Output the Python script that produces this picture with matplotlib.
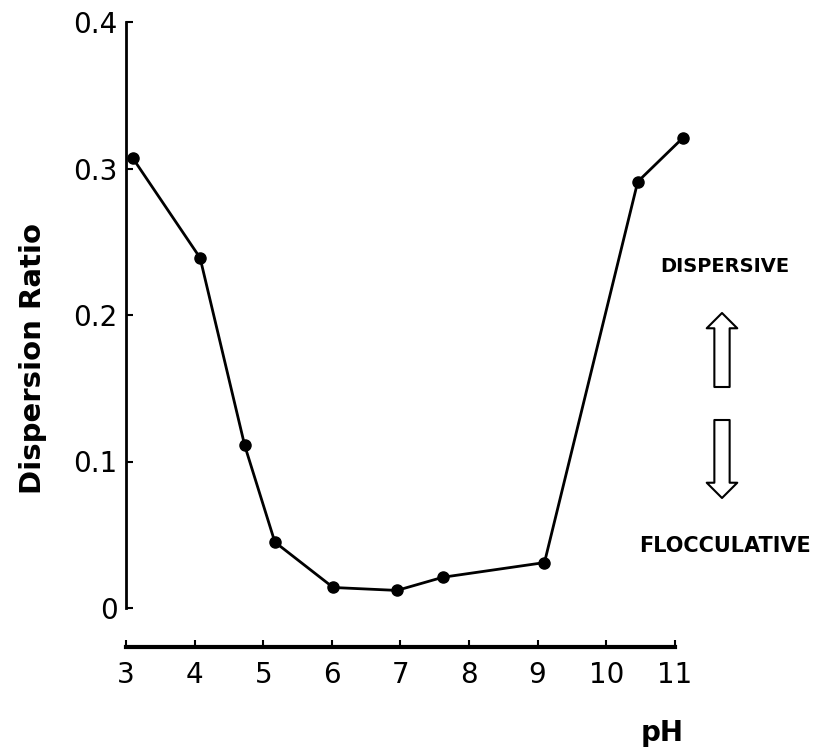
import matplotlib
matplotlib.use("Agg")
import matplotlib.pyplot as plt

# data
ph = [3.1, 4.08, 4.73, 5.17, 6.02, 6.95, 7.62, 9.1, 10.46, 11.12]
ratio = [0.307, 0.239, 0.111, 0.045, 0.014, 0.012, 0.021, 0.031, 0.291, 0.321]

xticks = [3, 4, 5, 6, 7, 8, 9, 10, 11]
yticks = [0, 0.1, 0.2, 0.3, 0.4]
ylabels = ["0", "0.1", "0.2", "0.3", "0.4"]

W, H = 829, 748
fig = plt.figure(figsize=(W / 100, H / 100), dpi=100)

# axes placed in pixel terms (pH 3 at x=126, 0 at y=608, 0.4 at y=22)
x0, px_per_ph = 126, 68.6
y0, px_per_unit = 608, 1465
xlim = (3, 11.3)
ylim = (0, 0.41)
ax = fig.add_axes([x0 / W, (H - y0) / H,
                   (xlim[1] - xlim[0]) * px_per_ph / W,
                   (ylim[1] - ylim[0]) * px_per_unit / H])

ax.plot(ph, ratio, color="black", lw=2, marker="o", ms=8, mfc="black", mec="black")

ax.set_xlim(*xlim)
ax.set_ylim(*ylim)

for s in ["top", "right"]:
    ax.spines[s].set_visible(False)
ax.spines["left"].set_bounds(0, 0.4)
ax.spines["left"].set_linewidth(2)
ax.spines["bottom"].set_bounds(3, 11)
ax.spines["bottom"].set_linewidth(3)
ax.spines["bottom"].set_position(("outward", 28))

ax.set_xticks(xticks)
ax.set_xticklabels([str(t) for t in xticks])
ax.set_yticks(yticks)
ax.set_yticklabels(ylabels)
ax.tick_params(axis="both", direction="in", length=5, width=1.5, labelsize=20)
ax.tick_params(axis="x", pad=10)
ax.tick_params(axis="y", pad=6)

fig.text(33 / W, 1 - 358 / H, "Dispersion Ratio", rotation=90, fontsize=21,
         fontweight="bold", ha="center", va="center")
fig.text(662 / W, 1 - 733 / H, "pH", fontsize=20, fontweight="bold",
         ha="center", va="center")

fig.text(725 / W, 1 - 267 / H, "DISPERSIVE", fontsize=14, fontweight="bold",
         ha="center", va="center")
fig.text(725 / W, 1 - 546 / H, "FLOCCULATIVE", fontsize=15, fontweight="bold",
         ha="center", va="center")

arrow_style = "simple,head_length=0.55,head_width=1.1,tail_width=0.55"
for tail, tip in [((722, 387), (722, 313)), ((722, 420), (722, 498))]:
    ax.annotate("", xy=(tip[0], H - tip[1]), xytext=(tail[0], H - tail[1]),
                xycoords="figure pixels", textcoords="figure pixels",
                arrowprops=dict(arrowstyle=arrow_style, fc="white", ec="black",
                                lw=1.5, shrinkA=0, shrinkB=0, mutation_scale=20))

fig.savefig("out.png", dpi=100)
